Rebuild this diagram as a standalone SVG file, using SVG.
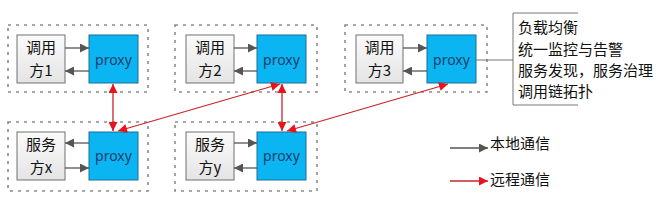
<svg xmlns="http://www.w3.org/2000/svg" width="670" height="201" viewBox="0 0 670 201">
<defs>
<linearGradient id="gbox" x1="0" y1="0" x2="0" y2="1">
<stop offset="0" stop-color="#fbfbfb"/><stop offset="1" stop-color="#e4e4e4"/>
</linearGradient>
<marker id="ag" viewBox="0 0 10 10" refX="10" refY="5" markerWidth="10" markerHeight="9" markerUnits="userSpaceOnUse" orient="auto"><path d="M0,0 L10,5 L0,10 z" fill="#555"/></marker>
<marker id="ar" viewBox="0 0 10 10" refX="10" refY="5" markerWidth="10" markerHeight="9" markerUnits="userSpaceOnUse" orient="auto-start-reverse"><path d="M0,0 L10,5 L0,10 z" fill="#e8141c"/></marker>
</defs>
<style>
.cont{fill:none;stroke:#8a8a8a;stroke-width:1.6;stroke-dasharray:3,5}
.box{fill:url(#gbox);stroke:#707070;stroke-width:1}
.proxy{fill:#0bb5f2;stroke:#1b6f99;stroke-width:1}
.t{font-family:"Noto Sans CJK SC","Microsoft YaHei",sans-serif;font-size:15px;fill:#111}
.pt{font-family:"Noto Sans","Liberation Sans",sans-serif;font-size:14px;fill:#1f3f6e;text-anchor:middle}
.c{text-anchor:middle}
.lg{stroke:#555;stroke-width:1.3;fill:none;marker-end:url(#ag)}
.lr{stroke:#c8262c;stroke-width:1.3;fill:none;marker-end:url(#ar);marker-start:url(#ar)}
.lrs{stroke:#c8262c;stroke-width:1.3;fill:none;marker-end:url(#ar)}
.br{stroke:#777;stroke-width:1;fill:none}
</style>
<rect width="670" height="201" fill="#fff"/>
<g id="group1">
<rect class="cont" x="8" y="25" width="140" height="67"/>
<g id="caller1"><rect class="box" x="17" y="35" width="48" height="48"/><text class="t c" x="41" y="53">调用</text><text class="t c" x="41" y="76">方1</text></g>
<g id="proxy1"><rect class="proxy" x="89" y="35" width="49" height="48"/><text class="pt" x="113.5" y="64.5">proxy</text></g>
</g>
<g id="group2">
<rect class="cont" x="175" y="25" width="142" height="67"/>
<g id="caller2"><rect class="box" x="186" y="35" width="48" height="48"/><text class="t c" x="210" y="53">调用</text><text class="t c" x="210" y="76">方2</text></g>
<g id="proxy2"><rect class="proxy" x="257" y="35" width="49" height="48"/><text class="pt" x="281.5" y="64.5">proxy</text></g>
</g>
<g id="group3">
<rect class="cont" x="345" y="25" width="142" height="67"/>
<g id="caller3"><rect class="box" x="356" y="35" width="47" height="48"/><text class="t c" x="379.5" y="53">调用</text><text class="t c" x="379.5" y="76">方3</text></g>
<g id="proxy3"><rect class="proxy" x="427" y="35" width="49" height="48"/><text class="pt" x="451.5" y="64.5">proxy</text></g>
</g>
<g id="groupx">
<rect class="cont" x="8" y="122" width="140" height="69"/>
<g id="servicex"><rect class="box" x="17" y="132" width="48" height="48"/><text class="t c" x="41" y="150">服务</text><text class="t c" x="41" y="173">方x</text></g>
<g id="proxyx"><rect class="proxy" x="89" y="132" width="49" height="48"/><text class="pt" x="113.5" y="161">proxy</text></g>
</g>
<g id="groupy">
<rect class="cont" x="175" y="122" width="142" height="69"/>
<g id="servicey"><rect class="box" x="186" y="132" width="48" height="48"/><text class="t c" x="210" y="150">服务</text><text class="t c" x="210" y="173">方y</text></g>
<g id="proxyy"><rect class="proxy" x="257" y="132" width="49" height="48"/><text class="pt" x="281.5" y="161">proxy</text></g>
</g>
<g id="note">
<path class="br" d="M476,60 H513 M578,13 H513 V105 H578"/>
<text class="t" x="518" y="33">负载均衡</text>
<text class="t" x="518" y="55">统一监控与告警</text>
<text class="t" x="518" y="76">服务发现，服务治理</text>
<text class="t" x="518" y="97">调用链拓扑</text>
</g>
<g id="legend">
<line class="lg" x1="450" y1="148" x2="488" y2="148"/>
<text class="t" x="490" y="149">本地通信</text>
<line class="lrs" x1="450" y1="181" x2="488" y2="181"/>
<text class="t" x="490" y="185">远程通信</text>
</g>
<g id="connectors">
<line class="lg" x1="65" y1="48" x2="89" y2="48"/>
<line class="lg" x1="89" y1="71" x2="65" y2="71"/>
<line class="lg" x1="234" y1="48" x2="257" y2="48"/>
<line class="lg" x1="257" y1="71" x2="234" y2="71"/>
<line class="lg" x1="403" y1="48" x2="427" y2="48"/>
<line class="lg" x1="427" y1="71" x2="403" y2="71"/>
<line class="lg" x1="89" y1="143" x2="65" y2="143"/>
<line class="lg" x1="65" y1="168" x2="89" y2="168"/>
<line class="lg" x1="234" y1="143" x2="257" y2="143"/>
<line class="lg" x1="257" y1="168" x2="234" y2="168"/>
<line class="lr" x1="113" y1="84" x2="113" y2="131"/>
<line class="lr" x1="280" y1="84" x2="118" y2="131"/>
<line class="lr" x1="282" y1="84" x2="282" y2="131"/>
<line class="lr" x1="448" y1="84" x2="287" y2="131"/>
</g>
</svg>
